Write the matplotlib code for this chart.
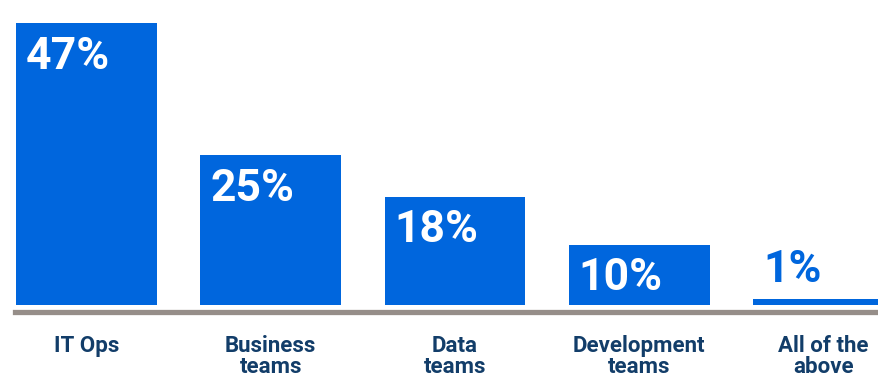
import matplotlib.pyplot as plt
import numpy as np

# survey shares by team
categories = ['IT Ops', 'Business\nteams', 'Data\nteams', 'Development\nteams', 'All of the\nabove']
shares = [47, 25, 18, 10, 1]
share_labels = ['47%', '25%', '18%', '10%', '1%']

bar_color = '#0066DD'
text_color = '#123D69'
base_color = '#968E89'

plt.rcParams['font.family'] = ['Roboto', 'DejaVu Sans']

W, H = 879, 379
fig = plt.figure(figsize=(W / 100, H / 100), dpi=100)

# axes placed in pixel terms: left edge at 15px, baseline at ~311px
left_px, right_px = 15, 879
top_px, base_px = 5, 311.5
ax = fig.add_axes([left_px / W, (H - base_px) / H,
                   (right_px - left_px) / W, (base_px - top_px) / H])

x = np.arange(len(categories))
step = 184.25
first_center = 86.5
ax.set_xlim((left_px - first_center) / step, (right_px - first_center) / step)

px_per_unit = 6.0
ax.set_ylim(-(base_px - 305) / px_per_unit, (305 - top_px) / px_per_unit)

ax.bar(x, shares, width=0.765, color=bar_color, zorder=2)

for xi, val, lab in zip(x, shares, share_labels):
    left = xi - 0.765 / 2 + 10 / step
    if val < 5:
        ax.annotate(lab, (left, val), xytext=(0, 6), textcoords='offset points',
                    ha='left', va='bottom', color=bar_color,
                    fontsize=32, fontweight='bold')
    else:
        ax.annotate(lab, (left, val), xytext=(0, -9), textcoords='offset points',
                    ha='left', va='top', color='white',
                    fontsize=32, fontweight='bold')

for side in ['top', 'left', 'right']:
    ax.spines[side].set_visible(False)
ax.spines['bottom'].set_color(base_color)
ax.spines['bottom'].set_linewidth(3.8)

ax.set_yticks([])
ax.set_xticks(x)
ax.set_xticklabels(categories, fontsize=16, fontweight='bold', color=text_color,
                   linespacing=0.92)
ax.tick_params(axis='x', length=0, pad=17)

fig.savefig('out.png', dpi=100)
